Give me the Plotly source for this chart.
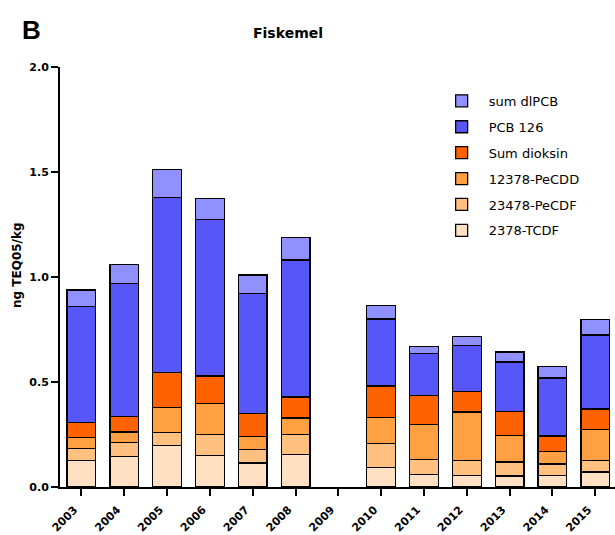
import plotly.graph_objects as go

# Years on the category axis (2009 has no measurements)
years = ["2003", "2004", "2005", "2006", "2007", "2008", "2009",
         "2010", "2011", "2012", "2013", "2014", "2015"]

# Stacked contributions, ng TEQ05/kg (bottom to top)
tcdf_2378 = [0.125, 0.144, 0.197, 0.151, 0.114, 0.154, None,
             0.092, 0.059, 0.056, 0.052, 0.056, 0.071]
pecdf_23478 = [0.059, 0.067, 0.062, 0.100, 0.065, 0.097, None,
               0.116, 0.072, 0.069, 0.067, 0.054, 0.056]
pecdd_12378 = [0.052, 0.051, 0.120, 0.147, 0.062, 0.078, None,
               0.124, 0.167, 0.232, 0.127, 0.058, 0.148]
sum_dioksin = [0.070, 0.073, 0.167, 0.131, 0.110, 0.100, None,
               0.149, 0.139, 0.099, 0.114, 0.075, 0.096]
pcb_126 = [0.553, 0.633, 0.833, 0.744, 0.571, 0.652, None,
           0.319, 0.198, 0.219, 0.235, 0.276, 0.353]
sum_dlpcb = [0.079, 0.092, 0.132, 0.102, 0.088, 0.108, None,
             0.065, 0.035, 0.042, 0.048, 0.056, 0.074]

series = [
    ("2378-TCDF", tcdf_2378, "#ffe0c2"),
    ("23478-PeCDF", pecdf_23478, "#ffc080"),
    ("12378-PeCDD", pecdd_12378, "#ffa042"),
    ("Sum dioksin", sum_dioksin, "#ff6200"),
    ("PCB 126", pcb_126, "#5757f9"),
    ("sum dlPCB", sum_dlpcb, "#9090ff"),
]

FONT = "DejaVu Sans"

fig = go.Figure()
# legend ranks put the top stack segment first in the legend
for rank, (name, vals, color) in enumerate(series):
    fig.add_trace(go.Bar(
        x=years, y=vals, name=name, width=0.67, legendgroup=name,
        legendrank=1000 - rank,
        marker=dict(color=color, line=dict(color="black", width=1.3)),
    ))

fig.update_layout(
    width=615, height=535,
    margin=dict(l=60, r=0, t=67, b=48, autoexpand=False),
    barmode="stack",
    plot_bgcolor="white", paper_bgcolor="white",
    font=dict(family=FONT, color="black"),
    showlegend=True,
    legend=dict(
        traceorder="grouped",
        x=0.675, y=0.955, xanchor="left", yanchor="top",
        font=dict(family=FONT, size=13, color="black"),
        itemwidth=44, tracegroupgap=6,
        bgcolor="rgba(0,0,0,0)",
    ),
    xaxis=dict(
        type="category", range=[-0.5, 12.46], automargin=False,
        showline=True, linecolor="black", linewidth=2,
        ticks="outside", ticklen=7, tickwidth=2, tickcolor="black",
        tickangle=-45, ticklabelshift=-7, ticklabelstandoff=3,
        tickfont=dict(family=FONT, size=11, color="black", weight="bold"),
        showgrid=False, zeroline=False,
    ),
    yaxis=dict(
        range=[0, 2.0], tickvals=[0, 0.5, 1.0, 1.5, 2.0], automargin=False,
        ticktext=["0.0", "0.5", "1.0", "1.5", "2.0"],
        showline=True, linecolor="black", linewidth=2,
        ticks="outside", ticklen=7, tickwidth=2, tickcolor="black",
        tickfont=dict(family=FONT, size=11, color="black", weight="bold"),
        showgrid=False, zeroline=False,
    ),
    annotations=[
        dict(text="<b>B</b>", xref="paper", yref="paper",
             x=(31 - 60) / 555, y=(487 - 30) / 420,
             xanchor="center", yanchor="middle", showarrow=False,
             font=dict(family="Liberation Sans", size=26, color="black")),
        dict(text="<b>Fiskemel</b>", xref="paper", yref="paper",
             x=(288 - 60) / 555, y=(487 - 33) / 420,
             xanchor="center", yanchor="middle", showarrow=False,
             font=dict(family=FONT, size=14, color="black")),
        dict(text="<b>ng TEQ05/kg</b>", xref="paper", yref="paper",
             x=(17 - 60) / 555, y=(487 - 265) / 420,
             xanchor="center", yanchor="middle", showarrow=False,
             textangle=-90,
             font=dict(family=FONT, size=12, color="black")),
    ],
)

fig.write_html("out.html")
